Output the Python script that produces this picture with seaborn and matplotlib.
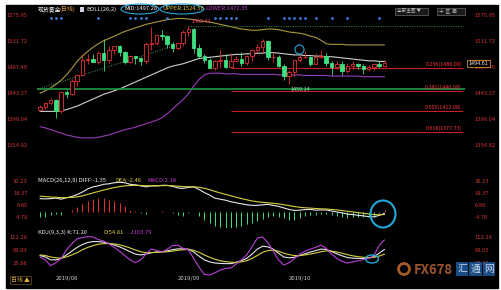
import numpy as np
import pandas as pd
import matplotlib
matplotlib.use("Agg")
import matplotlib.pyplot as plt
import matplotlib.transforms as mtrans
import seaborn as sns
from matplotlib.patches import Ellipse, Rectangle, Circle

sns.set_theme(style="dark")
plt.rcParams["font.family"] = ["Noto Sans CJK SC", "DejaVu Sans"]

# ---------------- data ----------------
opens = [1414,1419,1426,1431,1413,1445,1441,1464,1474,1500,1501,1496,1511,1500,1516,1523,1513,1496,1506,1502,
         1498,1527,1528,1542,1540,1527,1520,1529,1547,1552,1519,1506,1499,1486,1497,1499,1488,1498,1501,1494,
         1506,1517,1522,1531,1504,1505,1489,1472,1479,1499,1504,1505,1493,1505,1506,1494,1488,1493,1481,1490,
         1492,1490,1484,1487,1492,1490]
highs = [1423,1428,1434,1433,1446,1448,1467,1474,1510,1510,1510,1514,1535,1524,1524,1525,1515,1508,1507,1504,
         1530,1555,1543,1550,1542,1530,1530,1550,1557,1553,1526,1510,1502,1499,1516,1509,1512,1507,1513,1508,
         1518,1526,1535,1533,1513,1508,1492,1483,1500,1508,1514,1506,1511,1517,1512,1497,1497,1497,1495,1498,
         1495,1493,1491,1495,1497,1499]
lows = [1412,1416,1423,1400,1410,1434,1440,1456,1473,1493,1496,1493,1481,1495,1510,1506,1492,1494,1493,1491,
        1492,1517,1525,1534,1519,1513,1516,1524,1540,1512,1503,1494,1485,1483,1485,1485,1487,1497,1490,1491,
        1497,1511,1512,1500,1496,1487,1466,1459,1473,1496,1503,1490,1492,1502,1490,1474,1484,1474,1477,1484,
        1484,1476,1480,1483,1486,1488]
closes = [1419,1426,1431,1413,1445,1441,1464,1474,1500,1501,1496,1511,1500,1516,1523,1513,1496,1506,1502,1498,
          1527,1528,1542,1540,1527,1520,1529,1547,1552,1519,1506,1499,1486,1497,1499,1488,1498,1501,1494,1506,
          1517,1522,1531,1504,1505,1489,1472,1479,1499,1504,1505,1493,1505,1506,1494,1488,1493,1481,1490,1492,
          1490,1484,1487,1492,1490,1495]

boll_upper = [1443,1447,1452,1458,1465,1474,1485,1497,1506,1514,1521,1527,1532,1536,1540,1544,1548,1551,1554,1557,
              1560,1562,1564,1566,1568,1569,1570,1570,1569,1568,1566,1565,1564,1562,1560,1558,1556,1554,1552,1551,
              1550,1550,1551,1552,1552,1551,1549,1547,1546,1545,1543,1540,1538,1533,1527,1526,1526,1526,1525,1525,
              1525,1525,1525,1525,1525,1525]
boll_mid = [1412,1412,1412,1412,1413,1415,1418,1421,1425,1429,1433,1437,1441,1444,1447,1450,1454,1458,1462,1466,
            1470,1474,1478,1482,1486,1489,1491,1493,1496,1499,1502,1503,1504,1505,1506,1507,1508,1509,1509,1510,
            1510,1511,1511,1512,1512,1511,1510,1509,1508,1508,1507,1507,1506,1506,1505,1505,1504,1503,1502,1501,
            1500,1499,1498,1498,1497,1497]
boll_lower = [1386,1384,1381,1378,1375,1372,1370,1368,1367,1367,1367,1368,1370,1372,1375,1378,1381,1383,1385,1388,
              1391,1394,1397,1401,1408,1416,1424,1432,1442,1455,1466,1474,1477,1477,1477,1476,1476,1476,1475,1475,
              1475,1475,1475,1475,1475,1474,1474,1474,1474,1474,1473,1473,1473,1473,1473,1472,1472,1472,1472,1472,
              1472,1471,1471,1471,1471,1471]

diff = [13.0,12.8,13.0,13.5,12.5,14.0,15.0,17.0,19.5,22.5,24.5,25.5,27.0,27.5,28.5,29.0,28.5,27.0,26.5,25.5,
        24.5,25.5,25.5,26.0,26.0,25.0,23.5,23.0,24.0,24.5,22.0,19.0,16.5,13.5,12.5,11.5,10.0,9.0,8.0,7.0,
        6.5,6.5,7.0,7.5,6.5,5.5,4.0,2.5,1.5,1.8,2.3,2.5,1.8,2.0,2.0,1.0,0.0,-0.8,-2.0,-2.5,
        -3.2,-3.8,-4.5,-4.7,-3.3,-1.35]
dea = [15.5,15.0,14.6,14.4,14.0,14.0,14.2,14.8,15.7,17.1,18.6,20.0,21.4,22.6,23.8,24.8,25.5,25.8,26.0,25.9,
       25.6,25.6,25.6,25.7,25.8,25.6,25.2,24.8,24.6,24.6,24.1,23.1,21.8,20.1,18.6,17.2,15.8,14.4,13.1,11.9,
       10.8,10.0,9.4,9.0,8.5,7.9,7.1,6.2,5.3,4.6,4.1,3.8,3.4,3.1,2.9,2.5,2.0,1.4,0.7,0.1,
       -0.6,-1.2,-1.9,-2.5,-2.7,-2.46]
macd_hist = [-5.0,-4.4,-3.2,-1.8,-3.0,0.0,1.6,4.4,7.6,10.8,12.8,13.5,13.2,11.8,10.4,8.4,6.0,2.4,1.0,-0.8,
             -2.2,-0.2,-0.2,0.6,0.4,-1.2,-3.4,-3.6,-1.2,-0.2,-4.2,-8.2,-10.6,-13.2,-14.2,-15.4,-15.6,-14.8,-13.2,-11.8,
             -10.6,-9.0,-6.8,-5.0,-4.0,-4.8,-6.2,-7.4,-7.6,-5.6,-3.6,-2.6,-3.2,-2.2,-1.8,-3.0,-4.0,-4.4,-5.4,-5.2,
             -5.2,-5.2,-5.2,-4.4,-1.2,2.18]

kdj_k = [50,45,35,35,40,52,65,78,88,95,98,98,96,92,86,80,72,63,55,52,
         55,60,62,63,66,70,73,73,72,62,48,35,28,24,23,22,22,26,32,40,
         55,72,82,80,72,58,45,42,44,50,56,62,67,72,71,64,56,49,43,41,
         40,40,41,45,58,71.2]
kdj_d = [52,50,45,42,41,45,52,60,70,78,84,89,91,91,90,87,82,76,69,63,
         60,60,61,62,63,65,68,70,71,68,61,52,44,37,32,29,27,26,28,32,
         40,50,61,67,69,65,58,53,50,50,52,55,59,63,66,65,62,58,53,49,
         46,44,43,44,48,54.81]
kdj_j = [45,35,15,25,40,70,90,108,112,115,114,105,100,90,78,65,50,35,25,35,
         55,72,68,62,72,84,86,75,69,40,10,-15,-17,-10,0,5,7,20,35,52,
         80,110,114,95,65,35,17,25,40,55,65,72,78,86,75,55,40,30,24,28,
         32,36,40,50,85,103.79]

price_ticks = [1575.95, 1531.72, 1487.49, 1443.27, 1399.04, 1354.82]
macd_ticks = [30.23, 18.37, 6.80, -4.78]
kdj_ticks = [112.18, 69.03, 25.88]
date_pos = [3, 26, 47]
date_labels = ["2019/08", "2019/09", "2019/10"]
fib_names = ["0.236", "0.382", "0.500", "0.618"]
fib_levels = [1486.00, 1446.09, 1412.08, 1377.73]
support_level = 1450.0
resist_level = 1557.0
signal_bars = [2, 3, 4, 11, 17, 18, 19, 20, 24, 33, 34, 35, 36, 37, 43, 46, 47, 48, 49, 50, 52, 55, 58, 64]
trend_x = [-1.0, 27.5]
trend_y = [1448.0, 1530.0]

n = len(closes)
idx = np.arange(n)
df = pd.DataFrame({"i": idx, "upper": boll_upper, "mid": boll_mid, "lower": boll_lower,
                   "diff": diff, "dea": dea, "k": kdj_k, "d": kdj_d, "j": kdj_j})

# ---------------- layout helpers (pixel boxes) ----------------
W, H = 502, 290
fig = plt.figure(figsize=(W / 100, H / 100), dpi=100, facecolor="white")

def box(x0, y0, x1, y1):
    return [x0 / W, 1 - y1 / H, (x1 - x0) / W, (y1 - y0) / H]

bg = fig.add_axes([0, 0, 1, 1], zorder=0)
bg.set_xlim(0, W); bg.set_ylim(H, 0); bg.axis("off")
bg.add_patch(Rectangle((6, 5), 492, 283, color="black"))

X0, DX = 40.0, 5.3
PL, PR = 37, 465
xl = ((PL - X0) / DX, (PR - X0) / DX)

RED = "#e83030"
LBL = "#d03434"
GRN = "#3ee07f"

def style(ax, ticks, fmt, ylim):
    ax.set_facecolor("none")
    ax.set_xlim(*xl)
    ax.set_ylim(*ylim)
    for s in ax.spines.values():
        s.set_visible(False)
    ax.set_yticks(ticks)
    ax.set_yticklabels([fmt.format(t) for t in ticks])
    ax.tick_params(axis="y", labelleft=True, labelright=True, left=False, right=False,
                   labelsize=4.2, labelcolor=LBL, pad=0.8)
    ax.set_xticks([])
    ax.grid(False)
    ax.set_xlabel(""); ax.set_ylabel("")

# ---------------- main price panel ----------------
def p_of(y):
    return 1487.49 + (67 - y) * 1.70

ax = fig.add_axes(box(PL, 5, PR, 170), zorder=2)
style(ax, price_ticks, "{:.2f}", (p_of(170), p_of(5)))

sns.lineplot(data=df, x="i", y="upper", ax=ax, color="#a8983c", linewidth=0.8)
sns.lineplot(data=df, x="i", y="mid", ax=ax, color="#cfcfcf", linewidth=0.8)
sns.lineplot(data=df, x="i", y="lower", ax=ax, color="#9a3cb8", linewidth=0.8)
ax.set_xlabel(""); ax.set_ylabel("")

for i in range(n):
    o, h, l, c = opens[i], highs[i], lows[i], closes[i]
    up = c >= o
    col = RED if up else GRN
    ax.vlines(i, l, h, color=col, linewidth=0.6, zorder=3)
    body = max(abs(c - o), 0.8)
    ax.add_patch(Rectangle((i - 0.33, min(o, c)), 0.66, body,
                           facecolor="black" if up else GRN, edgecolor=col,
                           linewidth=0.6, zorder=4))

ax.hlines(support_level, xl[0], xl[1], color="#1f9a45", linewidth=1.2, zorder=2)
ax.plot(trend_x, trend_y, color="#4aa060", linewidth=0.7, linestyle=(0, (1, 1.5)), zorder=2)
ax.hlines(resist_level, 28, xl[1] - 0.3, color="#3a8a40", linewidth=0.7, linestyles=(0, (1, 1.5)), zorder=2)
for name, lev in zip(fib_names, fib_levels):
    ax.hlines(lev, 36, xl[1] - 0.3, color="#c82020", linewidth=0.8, zorder=2)
    ax.text(xl[1] - 0.6, lev + 1.5, f"{name}({lev:.2f})", color="#ff3535",
            fontsize=3.9, ha="right", va="bottom", zorder=5)

ax.scatter(signal_bars, [1571] * len(signal_bars), s=4, color="#3a7be0", zorder=5, linewidths=0)
ax.text(28.5, 1561, "1560.41", color="#ff4070", fontsize=3.9, ha="left", va="bottom", zorder=5)
ax.text(47.3, 1449, "1459.14", color="#9ff0b0", fontsize=3.9, ha="left", va="center", zorder=5)
ax.text(xl[1] + 0.7, 1493.5, "1494.61", color="#f0f0f0", fontsize=3.9, ha="left", va="center",
        zorder=6, clip_on=False,
        bbox=dict(boxstyle="square,pad=0.25", facecolor="black", edgecolor="#e08a30", linewidth=0.6))

# ---------------- MACD panel ----------------
def m_of(y):
    return (212 - y) * 0.975

axm = fig.add_axes(box(PL, 175, PR, 228), zorder=2)
style(axm, macd_ticks, "{:.2f}", (m_of(228), m_of(175)))
hist_cols = [RED if v >= 0 else GRN for v in macd_hist]
axm.vlines(idx, 0, macd_hist, colors=hist_cols, linewidth=0.7)
sns.lineplot(data=df, x="i", y="diff", ax=axm, color="#e6e6e6", linewidth=0.8)
sns.lineplot(data=df, x="i", y="dea", ax=axm, color="#d8d040", linewidth=0.8)
axm.set_xlabel(""); axm.set_ylabel("")

# ---------------- KDJ panel ----------------
def k_of(y):
    return 69.03 + (250 - y) * 3.45

axk = fig.add_axes(box(PL, 230, PR, 277), zorder=2)
style(axk, kdj_ticks, "{:.2f}", (k_of(277), k_of(230)))
sns.lineplot(data=df, x="i", y="k", ax=axk, color="#e6e6e6", linewidth=0.8)
sns.lineplot(data=df, x="i", y="d", ax=axk, color="#d8d040", linewidth=0.8)
sns.lineplot(data=df, x="i", y="j", ax=axk, color="#b840d8", linewidth=0.8)
axk.set_xlabel(""); axk.set_ylabel("")
tr = mtrans.blended_transform_factory(axk.transData, axk.transAxes)
for pos, lab in zip(date_pos, date_labels):
    axk.text(pos, -0.03, lab, transform=tr, color="#c8c8c8", fontsize=4.3,
             ha="left", va="center", clip_on=False)

# ---------------- overlay: headers, marks, watermark ----------------
ov = fig.add_axes([0, 0, 1, 1], zorder=10)
ov.set_xlim(0, W); ov.set_ylim(H, 0); ov.axis("off"); ov.patch.set_alpha(0)

fs = 4.2
ov.text(38, 9, "现货黄金", color="#f0f0f0", fontsize=fs, va="center")
ov.text(60, 9, "(日线)", color="#e0a040", fontsize=fs, va="center")
ov.add_patch(Rectangle((80.5, 6.5), 4, 5, facecolor="#d0d0e0", edgecolor="none"))
ov.text(86, 9, "BOLL(26,2)", color="#f0f0f0", fontsize=fs, va="center")
ov.text(124, 9, "MID:1497.28", color="#f0f0f0", fontsize=fs, va="center")
ov.text(162, 9, "UPPER:1524.56", color="#d8c840", fontsize=fs, va="center")
ov.text(205, 9, "LOWER:1471.35", color="#c040d0", fontsize=fs, va="center")
ov.add_patch(Ellipse((140, 9), 38, 10, fill=False, edgecolor="#2aa8d8", linewidth=0.8))
ov.add_patch(Ellipse((182, 9), 44, 10, fill=False, edgecolor="#2aa8d8", linewidth=0.8))
ov.add_patch(Circle((299.5, 49.5), 4.5, fill=False, edgecolor="#2aa8d8", linewidth=0.8))

ov.add_patch(Rectangle((395, 7.5), 33, 7, facecolor="#1a1a1a", edgecolor="#6a6a6a", linewidth=0.5))
ov.text(397, 11, "全部主图 ▼", color="#bbbbbb", fontsize=3.3, va="center")
ov.add_patch(Rectangle((437, 7.5), 28, 7, facecolor="#1a1a1a", edgecolor="#6a6a6a", linewidth=0.5))
ov.text(439, 11, "十  区  画", color="#bbbbbb", fontsize=3.3, va="center")

ov.text(38, 180, "MACD(26,12,9) DIFF:-1.35", color="#f0f0f0", fontsize=fs, va="center")
ov.text(115, 180, "DEA:-2.46", color="#d8d040", fontsize=fs, va="center")
ov.text(147, 180, "MACD:2.18", color="#c040d0", fontsize=fs, va="center")
ov.add_patch(Ellipse((383, 214), 25, 27, fill=False, edgecolor="#20a8d8", linewidth=1.5))

ov.text(38, 232, "KDJ(9,3,3) K:71.20", color="#f0f0f0", fontsize=fs, va="center")
ov.text(103, 232, "D:54.81", color="#d8d040", fontsize=fs, va="center")
ov.text(130, 232, "J:103.79", color="#c040d0", fontsize=fs, va="center")
ov.add_patch(Ellipse((372, 259), 13, 8, fill=False, edgecolor="#20a8d8", linewidth=1.0))

ov.text(11, 280, "日线 ▲", color="#e0b040", fontsize=4.2, va="center",
        bbox=dict(boxstyle="square,pad=0.2", facecolor="black", edgecolor="#705020", linewidth=0.5))

ov.add_patch(Circle((404, 269), 5.5, fill=False, edgecolor="#d07030", linewidth=2.0, alpha=0.8))
ov.text(414, 270, "FX678", color="#b8643a", fontsize=9.5, fontweight="bold", va="center", alpha=0.85)
for k, ch in enumerate("汇通网"):
    ov.add_patch(Rectangle((456 + k * 13.5, 262), 12.5, 14, facecolor="#2060a8", edgecolor="none", alpha=0.8))
    ov.text(462.25 + k * 13.5, 269, ch, color="#c8d8f0", fontsize=7, ha="center", va="center")

fig.savefig("out.png", dpi=100, facecolor="white")
